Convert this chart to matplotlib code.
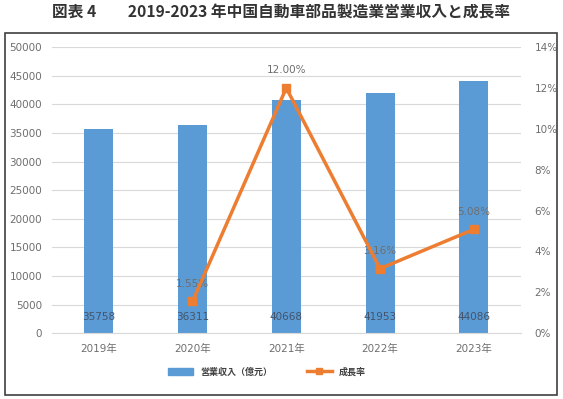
import matplotlib
matplotlib.use("Agg")
import matplotlib.pyplot as plt
import matplotlib.patches as mpatches
from matplotlib.lines import Line2D
import numpy as np

plt.rcParams['font.family'] = ['DejaVu Sans', 'Noto Sans CJK JP']

years = ["2019年", "2020年", "2021年", "2022年", "2023年"]
revenue = [35758, 36311, 40668, 41953, 44086]
growth = [np.nan, 1.55, 12.00, 3.16, 5.08]
growth_labels = ["", "1.55%", "12.00%", "3.16%", "5.08%"]
left_ticks = list(range(0, 50001, 5000))
right_ticks = [0, 2, 4, 6, 8, 10, 12, 14]

bar_color = "#5B9BD5"
line_color = "#ED7D31"
tick_color = "#6E6E6E"

fig = plt.figure(figsize=(5.63, 3.99), dpi=100)
ax = fig.add_axes([0.092, 0.165, 0.833, 0.717])
ax2 = ax.twinx()

x = np.arange(len(years))
ax.bar(x, revenue, width=0.31, color=bar_color, zorder=2)
ax.set_xlim(-0.5, 4.5)
ax.set_ylim(0, 50000)
ax.set_yticks(left_ticks)
ax.set_yticklabels([str(v) for v in left_ticks])
ax.set_xticks(x)
ax.set_xticklabels(years, family=['DejaVu Sans', 'Noto Sans CJK JP'])
ax.grid(axis='y', color='#D9D9D9', lw=0.8, zorder=0)
ax.set_axisbelow(True)
for s in ['top', 'left', 'right']:
    ax.spines[s].set_visible(False)
ax.spines['bottom'].set_color('#D9D9D9')
ax.tick_params(axis='both', length=0, colors=tick_color, labelsize=7.5)
ax.tick_params(axis='x', pad=8)
ax.tick_params(axis='y', pad=7)

for xi, v in zip(x, revenue):
    ax.text(xi, 2900, str(v), ha='center', va='center', fontsize=7.5, color='#44546A', zorder=3)

ax2.plot(x, growth, color=line_color, lw=2.5, marker='s', markersize=6, zorder=4)
ax2.set_ylim(0, 14)
ax2.set_yticks(right_ticks)
ax2.set_yticklabels([f"{v}%" for v in right_ticks])
for s in ['top', 'left', 'right', 'bottom']:
    ax2.spines[s].set_visible(False)
ax2.tick_params(axis='y', length=0, colors=tick_color, labelsize=7.5, pad=10)

for xi, g, lab in zip(x, growth, growth_labels):
    if lab:
        ax2.annotate(lab, (xi, g), xytext=(0, 9), textcoords='offset points',
                     ha='center', va='bottom', fontsize=7.5, color=tick_color)

# legend
handles = [mpatches.Patch(color=bar_color),
           Line2D([0], [0], color=line_color, lw=2.5, marker='s', markersize=5)]
leg = fig.legend(handles, ["営業収入（億元）", "成長率"], loc='center', bbox_to_anchor=(0.474, 0.068),
                 ncol=2, frameon=False, columnspacing=3.8, handlelength=2.8,
                 prop={'family': ['Noto Sans CJK JP'], 'size': 6.5, 'weight': 'bold'})
for t in leg.get_texts():
    t.set_color('#404040')

# title
fig.text(0.5, 0.968, "図表 4　　2019-2023 年中国自動車部品製造業営業収入と成長率",
         ha='center', va='center', fontsize=11.3, weight='bold', color='#333333',
         family=['Noto Sans CJK JP'])

# border
rect = mpatches.Rectangle((5 / 563, 4 / 399), 552 / 563, 362 / 399, transform=fig.transFigure,
                          fill=False, edgecolor='#404040', lw=1.2)
fig.patches.append(rect)

fig.savefig("out.png", dpi=100)
